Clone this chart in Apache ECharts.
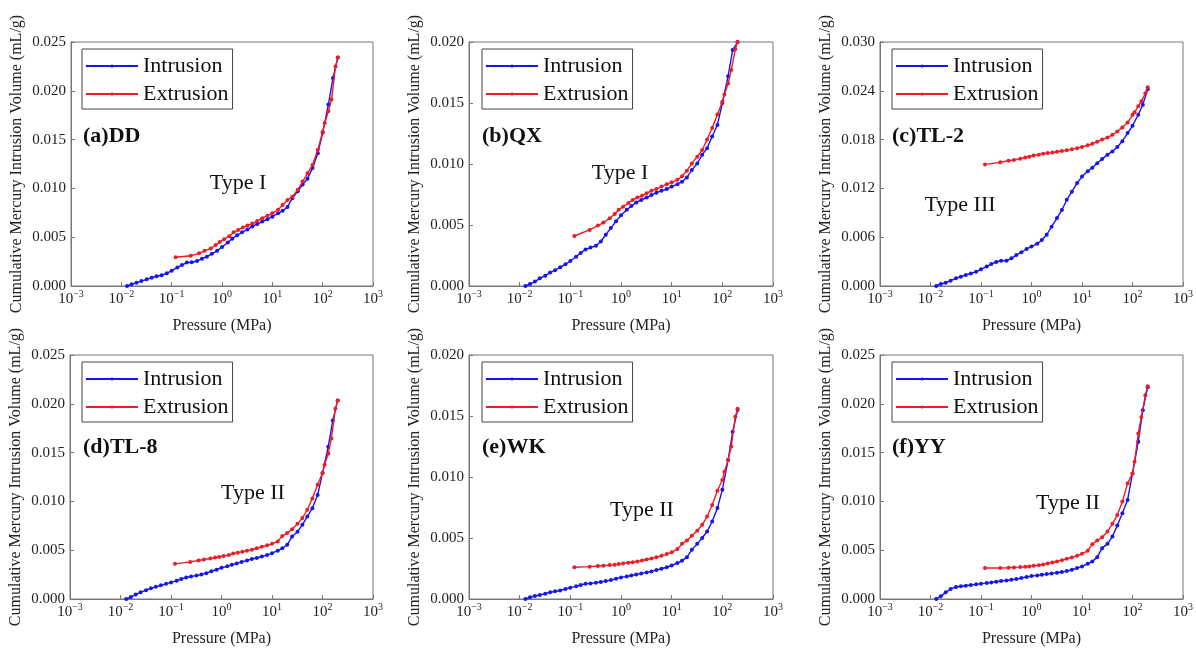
<!DOCTYPE html>
<html><head><meta charset="utf-8">
<script src="https://cdn.jsdelivr.net/npm/echarts@6/dist/echarts.min.js"></script>
<style>html,body{margin:0;padding:0;background:#fff}#c{width:1196px;height:649px}</style>
</head><body><div id="c"></div><script>
// Pressure points (MPa)
const intrusionPressure = [0.013,0.016,0.02,0.025,0.032,0.04,0.05,0.063,0.08,0.1,0.13,0.16,0.2,0.25,0.32,0.4,0.5,0.63,0.8,1.0,1.3,1.6,2.0,2.5,3.2,4.0,5.0,6.3,8.0,10,13,16,20,25,32,40,50,63,80,100,130,160,200];
const extrusionPressure = [0.12,0.24,0.35,0.45,0.6,0.75,0.9,1.1,1.4,1.7,2.1,2.6,3.2,4,5,6.3,8,10,13,16,20,25,32,40,50,63,80,100,110,130,150,180,200];

// Cumulative volumes, in units of 1e-3 mL/g
const ddIntrusion = [0,0.17,0.34,0.5,0.68,0.85,1.0,1.1,1.3,1.57,1.9,2.15,2.4,2.43,2.56,2.8,3.0,3.3,3.6,4.0,4.45,4.85,5.2,5.5,5.8,6.1,6.35,6.6,6.85,7.1,7.45,7.7,8.1,9.0,9.7,10.4,11.0,12.1,13.6,15.7,18.6,21.3,23.4];
const ddExtrusion = [2.95,3.1,3.35,3.6,3.85,4.2,4.5,4.8,5.1,5.5,5.75,6.0,6.2,6.4,6.65,6.95,7.2,7.45,7.8,8.3,8.8,9.15,9.85,10.7,11.55,12.4,13.95,15.8,16.7,17.9,19.1,22.5,23.4];

const qxIntrusion = [0,0.16,0.36,0.63,0.85,1.1,1.3,1.53,1.78,2.05,2.4,2.7,3.0,3.15,3.3,3.65,4.2,4.75,5.3,5.8,6.25,6.55,6.85,7.05,7.25,7.45,7.65,7.8,7.95,8.15,8.35,8.55,8.9,9.5,10.05,10.75,11.3,12.25,13.2,15.0,17.2,19.35,20.0];
const qxExtrusion = [4.1,4.6,4.95,5.2,5.55,5.9,6.25,6.5,6.8,7.05,7.25,7.4,7.6,7.8,7.95,8.15,8.35,8.5,8.7,9.0,9.45,10.05,10.6,11.15,12.0,12.95,14.05,15.1,15.7,16.6,17.7,19.4,20.0];

const tl2Intrusion = [0,0.25,0.4,0.65,0.95,1.15,1.35,1.55,1.75,2.05,2.4,2.7,2.95,3.1,3.1,3.4,3.8,4.15,4.55,4.85,5.2,5.65,6.3,7.3,8.35,9.35,10.6,11.6,12.65,13.45,14.1,14.55,15.1,15.6,16.15,16.55,17.1,17.8,18.8,19.7,21.05,22.3,24.2];
const tl2Extrusion = [14.95,15.2,15.4,15.5,15.65,15.8,15.9,16.05,16.15,16.25,16.35,16.4,16.5,16.6,16.7,16.8,16.95,17.1,17.3,17.5,17.75,18.0,18.25,18.6,19.0,19.5,20.1,21.05,21.35,22.1,22.7,23.7,24.45];

const tl8Intrusion = [0,0.2,0.45,0.68,0.9,1.1,1.25,1.4,1.55,1.7,1.87,2.05,2.2,2.3,2.4,2.5,2.65,2.85,3.0,3.2,3.35,3.5,3.65,3.8,3.95,4.1,4.2,4.35,4.5,4.7,4.95,5.2,5.55,6.4,6.9,7.6,8.45,9.3,10.65,12.9,15.6,18.3,20.35];
const tl8Extrusion = [3.6,3.8,3.95,4.05,4.15,4.25,4.3,4.4,4.5,4.65,4.75,4.85,4.95,5.05,5.2,5.35,5.5,5.65,5.9,6.45,6.75,7.15,7.7,8.3,9.15,10.3,11.7,12.9,13.75,14.9,16.45,19.5,20.35];

const wkIntrusion = [0,0.14,0.25,0.33,0.44,0.55,0.63,0.7,0.82,0.93,1.04,1.15,1.25,1.28,1.33,1.4,1.47,1.55,1.66,1.77,1.85,1.93,2.0,2.1,2.18,2.26,2.37,2.48,2.6,2.75,2.95,3.13,3.43,4.03,4.52,5.0,5.53,6.35,7.45,8.95,11.4,13.7,15.5];
const wkExtrusion = [2.6,2.65,2.7,2.73,2.78,2.8,2.86,2.92,2.97,3.02,3.08,3.16,3.24,3.32,3.43,3.54,3.68,3.84,4.09,4.52,4.8,5.18,5.6,6.08,6.76,7.7,8.88,9.75,10.44,11.4,12.5,14.93,15.6];

const yyIntrusion = [0,0.27,0.68,1.02,1.23,1.3,1.36,1.43,1.5,1.57,1.63,1.7,1.77,1.84,1.9,1.97,2.04,2.15,2.25,2.35,2.42,2.49,2.55,2.62,2.69,2.76,2.86,3.0,3.17,3.34,3.61,3.85,4.29,5.21,5.65,6.4,7.53,8.79,10.15,12.87,16.1,19.35,21.7];
const yyExtrusion = [3.17,3.17,3.2,3.24,3.27,3.3,3.34,3.4,3.47,3.54,3.64,3.75,3.85,3.98,4.12,4.26,4.43,4.63,4.94,5.62,5.99,6.33,6.91,7.7,8.6,9.98,11.85,12.87,14.07,16.96,18.66,20.88,21.8];

const panelLabels = ['(a)DD','(b)QX','(c)TL-2','(d)TL-8','(e)WK','(f)YY'];
const typeLabels = ['Type I','Type I','Type III','Type II','Type II','Type II'];
const yMaxes = [0.025,0.020,0.030,0.025,0.020,0.025];
const yIntervals = [0.005,0.005,0.006,0.005,0.005,0.005];
const intrusionSets = [ddIntrusion,qxIntrusion,tl2Intrusion,tl8Intrusion,wkIntrusion,yyIntrusion];
const extrusionSets = [ddExtrusion,qxExtrusion,tl2Extrusion,tl8Extrusion,wkExtrusion,yyExtrusion];

// layout
const grids = [
  {left:71,top:42,width:302,height:244},
  {left:469,top:42,width:304,height:244},
  {left:880,top:42,width:304,height:244},
  {left:70,top:355,width:303,height:244},
  {left:469,top:355,width:304,height:244},
  {left:880,top:355,width:304,height:244}
];
const legendPos = [[82,49],[482,49],[892,49],[82,362],[482,362],[892,362]];
const labelPos = [[83,137],[482,137],[892,137],[83,448],[482,448],[892,448]];
const typePos = [[238,183],[620,173],[960,205],[253,493],[642,510],[1068,503]];

const FONT = '"Liberation Serif","Times New Roman",serif';
const BLUE = '#1414f5', RED = '#ee1c24', AX = '#777';
const sup = e => (e < 0 ? '\u2212' + (-e) : '' + e);

const option = {
  animation:false,
  backgroundColor:'#fff',
  grid: grids.map(g => Object.assign({show:true,borderColor:AX,borderWidth:1,backgroundColor:'transparent'}, g)),
  xAxis: grids.map((g,i) => ({
    type:'log', logBase:10, gridIndex:i, min:0.001, max:1000, splitNumber:6,
    name:'Pressure (MPa)', nameLocation:'middle', nameGap:32,
    nameTextStyle:{fontFamily:FONT,fontSize:16,color:'#222'},
    axisLine:{show:true,lineStyle:{color:AX,width:1}},
    axisTick:{show:true,inside:true,length:4,lineStyle:{color:AX}},
    minorTick:{show:false}, splitLine:{show:false},
    axisLabel:{margin:3, color:'#222', fontFamily:FONT,
      formatter: v => '{b|10}{s|' + sup(Math.round(Math.log10(v))) + '}',
      rich:{ b:{fontFamily:FONT,fontSize:15,color:'#222',lineHeight:18,verticalAlign:'bottom'},
             s:{fontFamily:FONT,fontSize:10,color:'#222',lineHeight:10,verticalAlign:'top'} } }
  })),
  yAxis: grids.map((g,i) => ({
    type:'value', gridIndex:i, min:0, max:yMaxes[i], interval:yIntervals[i],
    name:'Cumulative Mercury Intrusion Volume (mL/g)', nameLocation:'middle', nameGap:46,
    nameTextStyle:{fontFamily:FONT,fontSize:16,color:'#222'},
    axisLine:{show:true,lineStyle:{color:AX,width:1}},
    axisTick:{show:true,inside:true,length:4,lineStyle:{color:AX}},
    splitLine:{show:false},
    axisLabel:{margin:5,fontFamily:FONT,fontSize:15,color:'#222',formatter:v => v.toFixed(3)}
  })),
  legend: legendPos.map(p => ({
    left:p[0], top:p[1], orient:'vertical', data:['Intrusion','Extrusion'],
    itemWidth:52, itemHeight:4, itemGap:6, padding:[6,4,4,3],
    borderColor:'#444', borderWidth:1, backgroundColor:'#fff',
    textStyle:{fontFamily:FONT,fontSize:22,color:'#111'},
    selectedMode:false
  })),
  series: [],
  graphic: []
};

for (let i = 0; i < 6; i++) {
  option.series.push({
    name:'Intrusion', type:'line', xAxisIndex:i, yAxisIndex:i,
    data: intrusionPressure.map((p,k) => [p, intrusionSets[i][k]/1000]),
    symbol:'circle', symbolSize:4, showSymbol:true,
    lineStyle:{color:BLUE,width:1.4}, itemStyle:{color:BLUE}, z:2
  });
  option.series.push({
    name:'Extrusion', type:'line', xAxisIndex:i, yAxisIndex:i,
    data: extrusionPressure.map((p,k) => [p, extrusionSets[i][k]/1000]),
    symbol:'circle', symbolSize:4, showSymbol:true,
    lineStyle:{color:RED,width:1.4}, itemStyle:{color:RED}, z:3
  });
  option.graphic.push({
    type:'text', left:labelPos[i][0], top:labelPos[i][1]-12,
    style:{text:panelLabels[i], font:'bold 22px ' + FONT, fill:'#111'}
  });
  option.graphic.push({
    type:'text', x:typePos[i][0], y:typePos[i][1],
    style:{text:typeLabels[i], font:'22px ' + FONT, fill:'#111', align:'center', verticalAlign:'middle'}
  });
}

const chart = echarts.init(document.getElementById('c'), null, {renderer:'canvas'});
chart.setOption(option);
</script></body></html>
